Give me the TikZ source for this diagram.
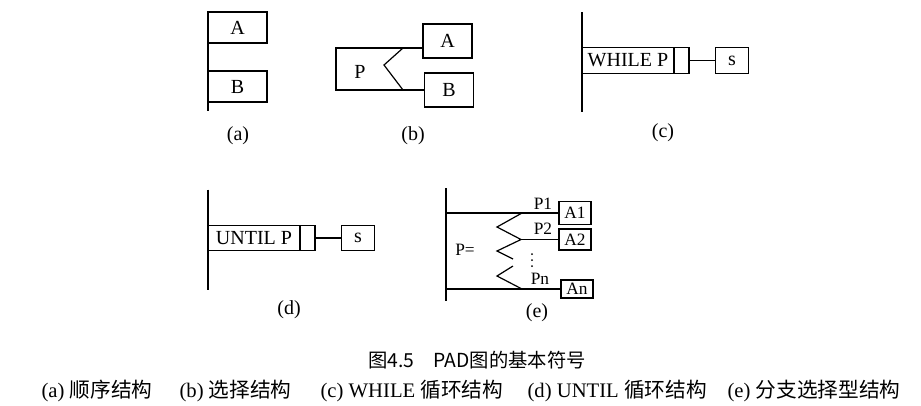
\documentclass[tikz,border=0pt]{standalone}
\usepackage{fontspec}
\setmainfont{Liberation Serif}
\newfontfamily\cjk{Noto Sans CJK SC}
\usetikzlibrary{positioning}

\begin{document}
\begin{tikzpicture}[
		x=0.75pt, y=-0.75pt,
		line width=0.9pt,
		every node/.style={inner sep=0pt},
		blk/.style={draw, outer sep=0pt, line width=0.9pt, font=\fontsize{15}{18}\selectfont},
		eblk/.style={draw, outer sep=0pt, line width=0.9pt, font=\fontsize{13}{15}\selectfont},
		tag/.style={font=\fontsize{15}{18}\selectfont},
		etext/.style={font=\fontsize{13}{15}\selectfont},
		sub/.style={anchor=west, font=\fontsize{15.5}{18}\selectfont}
		]
		\useasboundingbox (0,0) rectangle (921,405);
		
		% --- (a) SEQUENCE ---
		\foreach \n/\y in {A/27.5, B/86.5} {
			\node[blk, minimum width=44.25pt, minimum height=23.25pt] (a_\n) at (237.5,\y) {\n};
		}
		\coordinate (a_top) at (208,12);
		\coordinate (a_bot) at (208,111);
		\draw (a_top) -- (a_bot);
		\node[tag] (lbl_a) at (238,136) {(a)};
		
		% --- (b) SELECTION ---
		\node[blk, minimum width=36.75pt, minimum height=25.5pt] (b_A) at (447.5,41) {A};
		\node[blk, minimum width=36.75pt, minimum height=25.5pt] (b_B) at (449,90) {B};
		\node[tag] (b_P) at (360,72) {P};
		\coordinate (b_tl) at (336,48);
		\coordinate (b_bl) at (336,90);
		\coordinate (b_zt) at (403,48);
		\coordinate (b_zm) at (384,65);
		\coordinate (b_zb) at (403,90);
		\draw (b_A.west |- b_tl) -- (b_tl) -- (b_bl) -- (b_B.west |- b_bl);
		\draw (b_zt) -- (b_zm) -- (b_zb);
		\node[tag] (lbl_b) at (413,136) {(b)};
		
		% --- (c) WHILE and (d) UNTIL LOOPS ---
		\foreach \k/\x/\y/\word in {c/582/60.5/WHILE, d/208/238/UNTIL} {
			\node[blk, minimum width=69pt, minimum height=19pt] (\k_cond) at ({\x+46},\y) {\word\ P};
			\node[blk, minimum width=11.25pt, minimum height=19pt, right=0pt of \k_cond] (\k_flag) {};
			\node[blk, minimum width=25pt, minimum height=19pt] (\k_s) at ({\x+150},\y) {s};
			\draw (\k_flag) -- (\k_s);
			\coordinate (\k_top) at (\x,{\y-48.5});
			\coordinate (\k_bot) at (\x,{\y+51.5});
			\draw (\k_top) -- (\k_bot);
			\node[tag] (lbl_\k) at ({\x+81},{\y+72}) {(\k)};
		}
		
		% --- (e) MULTI-BRANCH SELECTION ---
		\foreach \n/\x/\y/\h in {A1/575/213/17.25pt, A2/575/239.5/15.75pt, An/577/289/13.5pt} {
			\node[eblk, minimum width=24pt, minimum height=\h] (e_\n) at (\x,\y) {\n};
		}
		\coordinate (e_top) at (446,188);
		\coordinate (e_bot) at (446,301);
		\coordinate (e_z2) at (521,239.5);
		\draw (e_top) -- (e_bot);
		\draw (e_top |- e_A1) -- (e_A1);
		\draw (e_z2) -- (e_A2);
		\draw (e_bot |- e_An) -- (e_An);
		\draw (522,213) -- (497,227) -- (e_z2) -- (497,251) -- (513,259);
		\draw (513,266) -- (497,276) -- (522,289);
		\node[etext] (e_P1) at (543,203.5) {P1};
		\node[etext] (e_P2) at (543,228.5) {P2};
		% vertical ellipsis between P2 and Pn
		\foreach \d in {254,260,266} {
			\fill (532,\d) circle (0.75pt);
		}
		\node[etext] (e_Pn) at (540,279) {Pn};
		\node[etext] (e_Peq) at (465,250) {P=};
		\node[tag] (lbl_e) at (537,313) {(e)};
		
		% --- CAPTION ---
		\node[font={\fontsize{14.5}{17}\cjk}] (title) at (477,360) {图4.5\quad PAD图的基本符号};
		\node[sub] (sub_a) at (41,391) {(a) {\cjk 顺序结构}};
		\node[sub] (sub_b) at (179,391) {(b) {\cjk 选择结构}};
		\node[sub] (sub_c) at (320,391) {(c) WHILE {\cjk 循环结构}};
		\node[sub] (sub_d) at (527,391) {(d) UNTIL {\cjk 循环结构}};
		\node[sub] (sub_e) at (727,391) {(e) {\cjk 分支选择型结构}};
		
	\end{tikzpicture}
\end{document}
